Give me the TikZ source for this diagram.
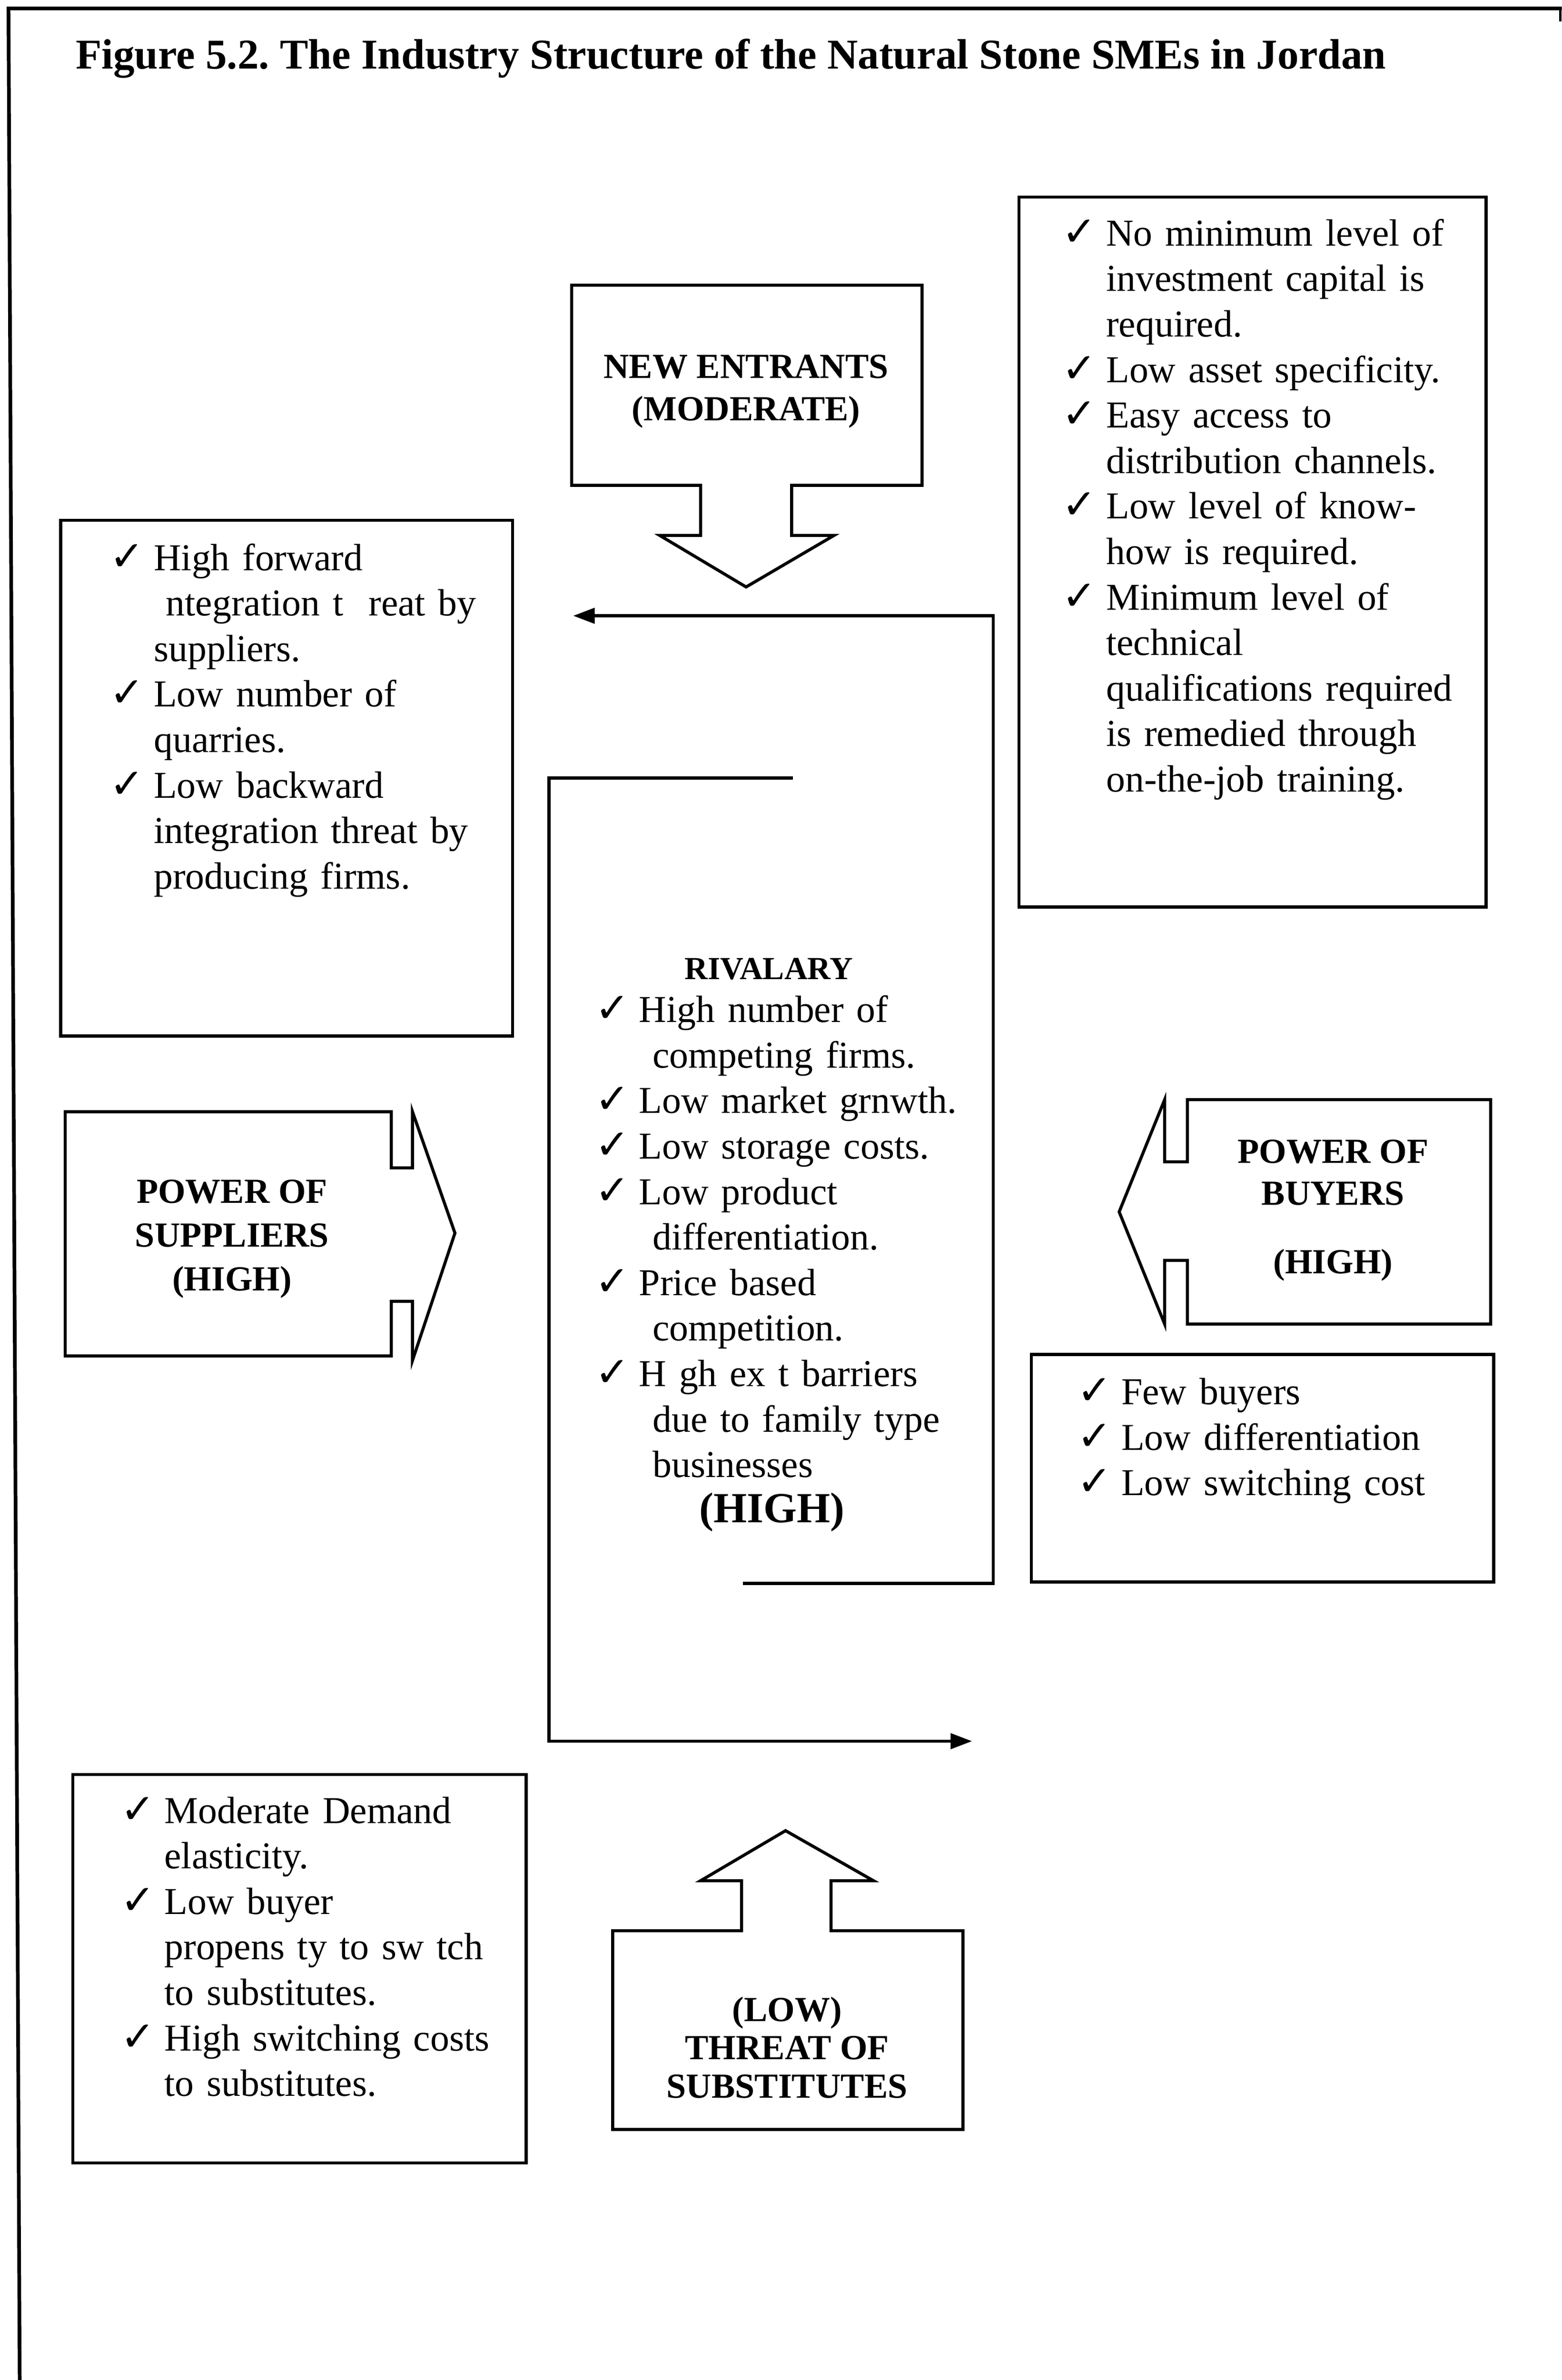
\documentclass[tikz,border=0pt]{standalone}
\usepackage{fontspec}
\setmainfont{Liberation Serif}
\newfontfamily\symfont{DejaVu Sans}
\usetikzlibrary{arrows.meta}
\frenchspacing

\newlength{\chkw}\setlength{\chkw}{0.505cm}
\newlength{\hangw}\setlength{\hangw}{0.505cm}
\newcommand{\chk}{{\symfont\fontsize{13.5}{14}\selectfont ✓}}
\newcommand{\itm}[1]{\noindent\hangindent=\hangw\hangafter=1\makebox[\chkw][l]{\chk}#1\par}
\newcommand{\nl}{\hfil\break}

\tikzset{
    shp/.style={draw, line width=1pt, line join=miter},
    conn/.style={line width=1pt, -{Triangle[length=7pt,width=5pt]}},
    lbl/.style={inner sep=0pt, align=center, font=\fontsize{11.5}{13.8}\selectfont\bfseries},
    lst/.style={inner sep=0pt, anchor=base west, text width=6cm, font=\fontsize{12.4}{14.85}\selectfont},
}

\begin{document}
\begin{tikzpicture}[x=0.0174cm, y=-0.0174cm]
    \useasboundingbox (0,0) rectangle (1029.9,1569.2);

    \draw[line width=1.2pt] (13,1569.2) -- (5.6,5.6) -- (1029.9,5.6);
    \draw[line width=0.8pt] (1029,5.6) -- (1029,14);

    \node[anchor=base west, inner sep=0pt, font=\fontsize{13.85}{17}\selectfont\bfseries] (title) at (49.5,45.5)
        {Figure 5.2. The Industry Structure of the Natural Stone SMEs in Jordan};

    % new entrants
    \draw[shp] (377,188) -- (608,188) -- (608,320) -- (522,320) -- (522,353) -- (550,353) -- (492,387)
        -- (435,353) -- (462,353) -- (462,320) -- (377,320) -- cycle;
    \node[lbl] (entrants) at (492,258) {NEW ENTRANTS\\(MODERATE)};

    \draw[shp] (672,130) rectangle (980,598);
    \node[lst] (entlist) at (700,162) {%
        \itm{No minimum level of\nl investment capital is\nl required.}%
        \itm{Low asset specificity.}%
        \itm{Easy access to\nl distribution channels.}%
        \itm{Low level of know-\nl how is required.}%
        \itm{Minimum level of\nl technical\nl qualifications required\nl is remedied through\nl on-the-job training.}};

    % suppliers
    \draw[shp] (40,343) rectangle (338,683);
    \node[lst] (suplist) at (72,376) {%
        \itm{High forward\nl \hspace*{0.14cm}ntegration t\ \ reat by\nl suppliers.}%
        \itm{Low number of\nl quarries.}%
        \itm{Low backward\nl integration threat by\nl producing firms.}};

    \draw[shp] (43,733) -- (258,733) -- (258,770) -- (272,770) -- (272,733) -- (300,813) -- (272,897)
        -- (272,858) -- (258,858) -- (258,894) -- (43,894) -- cycle;
    \node[lbl, font=\fontsize{11.5}{14.3}\selectfont\bfseries] (suppliers) at (153,817) {POWER OF\\SUPPLIERS\\(HIGH)};

    % rivalry
    \coordinate (rtop) at (523,513);
    \coordinate (rtl) at (362,513);
    \coordinate (rbl) at (362,1148);
    \coordinate (rtip) at (641,1148);
    \coordinate (rbot) at (490,1044);
    \coordinate (rbr) at (655,1044);
    \coordinate (rtr) at (655,406);
    \coordinate (ltip) at (378,406);
    \draw[conn] (rtop) -- (rtl) -- (rbl) -- (rtip);
    \draw[conn] (rbot) -- (rbr) -- (rtr) -- (ltip);

    \node[inner sep=0pt, font=\fontsize{10.5}{12}\selectfont\bfseries] (rivalry) at (507,639) {RIVALARY};
    \node[lst] (rivlist) at (392,674) {\setlength{\hangw}{0.661cm}%
        \itm{High number of\nl competing firms.}%
        \itm{Low market grnwth.}%
        \itm{Low storage costs.}%
        \itm{Low product\nl differentiation.}%
        \itm{Price based\nl competition.}%
        \itm{H gh ex t barriers\nl due to family type\nl businesses}};
    \node[inner sep=0pt, font=\fontsize{14}{17}\selectfont\bfseries] (rivhigh) at (509,997) {(HIGH)};

    % buyers
    \draw[shp] (983,725) -- (783,725) -- (783,766) -- (768,766) -- (768,725) -- (738,799) -- (768,873)
        -- (768,831) -- (783,831) -- (783,873) -- (983,873) -- cycle;
    \node[lbl] (buyers) at (879,798) {POWER OF\\BUYERS\\[0.3cm](HIGH)};

    \draw[shp] (680,893) rectangle (985,1043);
    \node[lst] (buylist) at (710,926) {%
        \itm{Few buyers}%
        \itm{Low differentiation}%
        \itm{Low switching cost}};

    % substitutes
    \draw[shp] (48,1170) rectangle (347,1426);
    \node[lst] (sublist) at (79,1202) {%
        \itm{Moderate Demand\nl elasticity.}%
        \itm{Low buyer\nl propens ty to sw tch\nl to substitutes.}%
        \itm{High switching costs\nl to substitutes.}};

    \draw[shp] (404,1404) -- (404,1273) -- (489,1273) -- (489,1240) -- (462,1240) -- (518,1207)
        -- (576,1240) -- (548,1240) -- (548,1273) -- (635,1273) -- (635,1404) -- cycle;
    \node[lbl, font=\fontsize{11.5}{12.5}\selectfont\bfseries] (substitutes) at (519,1350) {(LOW)\\THREAT OF\\SUBSTITUTES};

\end{tikzpicture}
\end{document}
